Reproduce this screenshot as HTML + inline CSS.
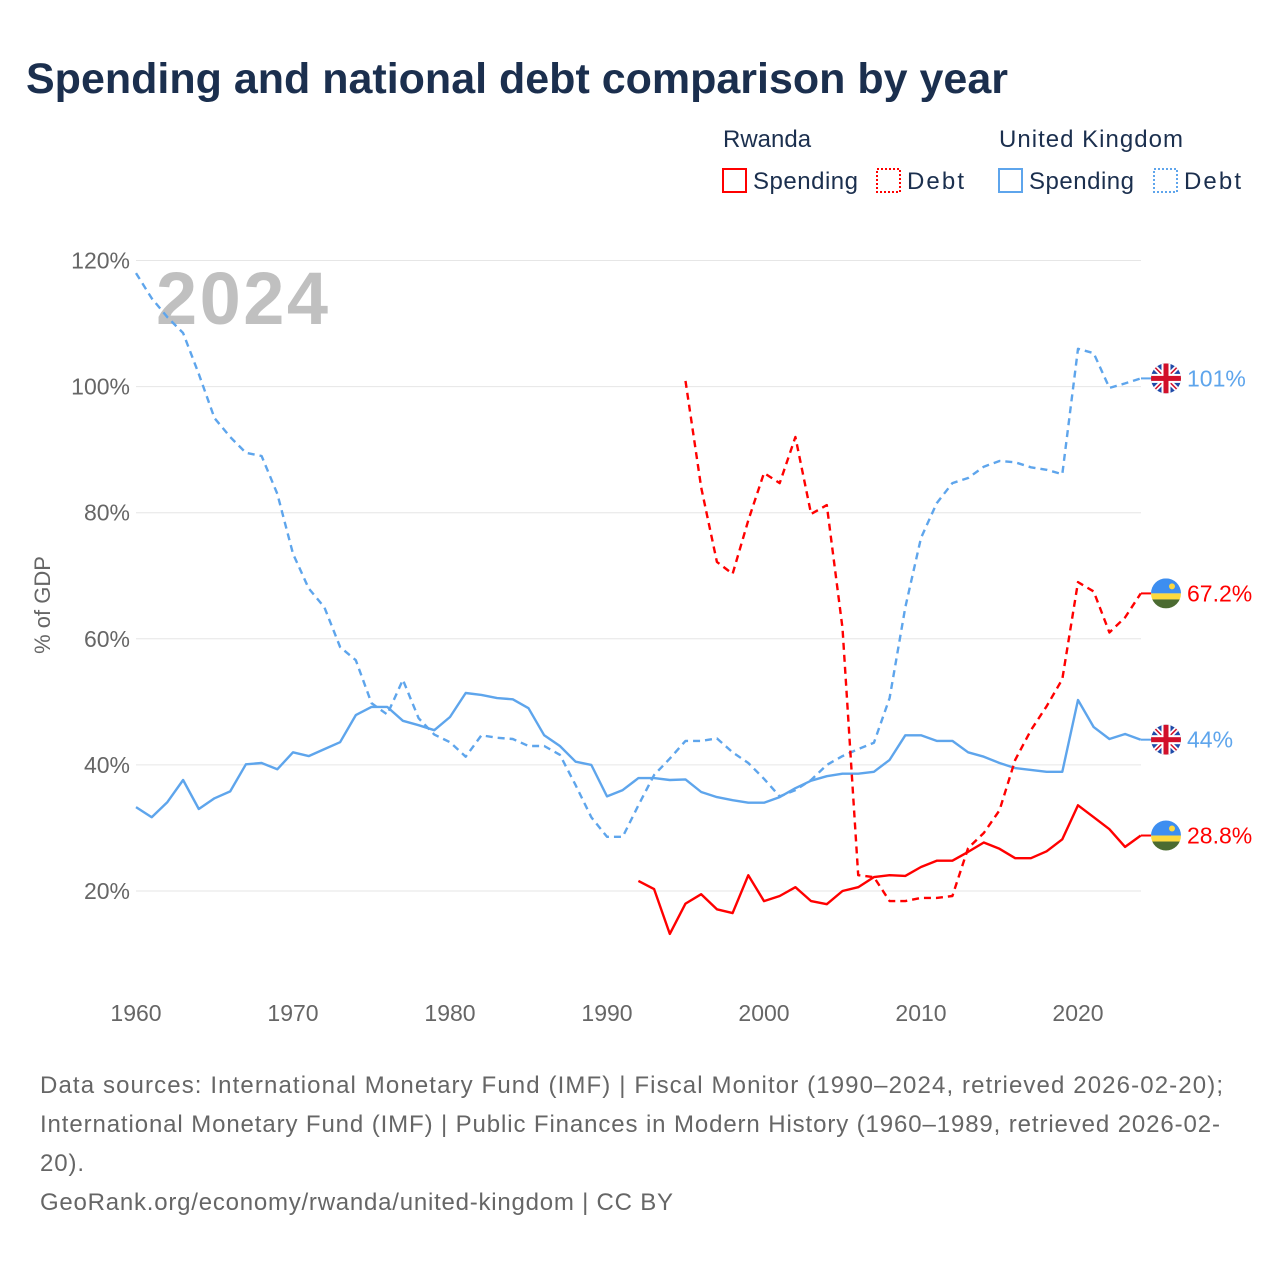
<!DOCTYPE html>
<html><head><meta charset="utf-8"><style>
body{margin:0;background:#fff;width:1280px;height:1280px;overflow:hidden;font-family:"Liberation Sans",sans-serif}
svg{position:absolute;left:0;top:0}
</style></head><body>
<svg width="1280" height="1280" id="chart">
<text x="26" y="93" font-size="43" font-weight="bold" fill="#1b2f4e">Spending and national debt comparison by year</text>
<g font-size="24" fill="#1b2f4e">
<text x="723" y="147">Rwanda</text>
<text x="999" y="147" textLength="184">United Kingdom</text>
<g><rect x="723" y="169" width="23" height="23" fill="none" stroke="#ff0000" stroke-width="2"/><text x="753" y="189" textLength="105">Spending</text></g>
<g><rect x="877" y="169" width="23" height="23" fill="none" stroke="#ff0000" stroke-width="2" stroke-dasharray="2,2"/><text x="907" y="189" textLength="57">Debt</text></g>
<g><rect x="999" y="169" width="23" height="23" fill="none" stroke="#5ea5ec" stroke-width="2"/><text x="1029" y="189" textLength="105">Spending</text></g>
<g><rect x="1154" y="169" width="23" height="23" fill="none" stroke="#5ea5ec" stroke-width="2" stroke-dasharray="2,2"/><text x="1184" y="189" textLength="57">Debt</text></g>
</g>
<text x="156" y="324" font-size="74" font-weight="bold" fill="#c0c0c0" textLength="172">2024</text>
<text transform="translate(50,605) rotate(-90)" text-anchor="middle" font-size="22" fill="#666">% of GDP</text>
<g id="grid"></g><g id="series"></g><g id="ends"></g>
<g font-size="24" fill="#666">
<text x="40" y="1093" textLength="1183">Data sources: International Monetary Fund (IMF) | Fiscal Monitor (1990–2024, retrieved 2026-02-20);</text>
<text x="40" y="1132" textLength="1180">International Monetary Fund (IMF) | Public Finances in Modern History (1960–1989, retrieved 2026-02-</text>
<text x="40" y="1171" textLength="44">20).</text>
<text x="40" y="1210" textLength="633">GeoRank.org/economy/rwanda/united-kingdom | CC BY</text>
</g>
</svg>
<script>
const yTicks=[20,40,60,80,100,120];
const xTicks=[1960,1970,1980,1990,2000,2010,2020];
const ukDebtStart=1960;
const ukDebt=[118,114,111,108.5,102,95,92,89.5,89,83,73.5,68,65,58.7,56.6,49.8,48,53.5,47.4,44.8,43.6,41.3,44.7,44.3,44.1,43,43,41.6,36.8,31.7,28.6,28.6,33.6,38.4,41,43.8,43.8,44.2,42,40.3,37.8,35,36,37.6,40,41.4,42.5,43.5,50.6,65,76,81.5,84.7,85.5,87.3,88.2,88,87.2,86.8,86.1,106,105.3,99.8,100.5,101.3];
const ukSpendStart=1960;
const ukSpend=[33.3,31.7,34.1,37.6,33,34.7,35.8,40.1,40.3,39.3,42,41.4,42.5,43.6,47.9,49.2,49.2,47,46.3,45.5,47.6,51.4,51.1,50.6,50.4,49,44.7,43,40.5,40,35,36,37.9,37.9,37.6,37.7,35.7,34.9,34.4,34,34,34.9,36.3,37.5,38.2,38.6,38.6,38.9,40.8,44.7,44.7,43.8,43.8,42,41.3,40.3,39.5,39.2,38.9,38.9,50.3,46,44.1,44.9,44];
const rwSpendStart=1992;
const rwSpend=[21.6,20.3,13.2,18,19.5,17.1,16.5,22.5,18.4,19.2,20.6,18.4,17.9,20,20.6,22.2,22.5,22.4,23.8,24.8,24.8,26.2,27.7,26.7,25.2,25.2,26.3,28.2,33.6,31.7,29.8,27,28.8];
const rwDebtStart=1995;
const rwDebt=[100.9,84,72.2,70.3,78.8,86.3,84.7,92,79.8,81.2,61.7,22.5,22.2,18.4,18.4,18.9,18.9,19.2,26.8,29.2,32.8,40.8,45.5,49.3,53.6,69,67.5,61,63.4,67.2];
const endLabels=["101%","67.2%","44%","28.8%"];

const X=y=>136+(y-1960)*(1078-136)/60;
const Y=v=>891-(v-20)*6.305;
const NS="http://www.w3.org/2000/svg";
function mk(t,a,p){const e=document.createElementNS(NS,t);for(const k in a)e.setAttribute(k,a[k]);p.appendChild(e);return e;}
const grid=document.getElementById('grid');
yTicks.forEach(v=>{
 const l=mk('line',{x1:136,x2:1141,y1:Y(v),y2:Y(v),stroke:'#e6e6e6','stroke-width':1},grid);
 
 
 const t=mk('text',{x:130,y:Y(v)+8,'text-anchor':'end','font-size':23,fill:'#666'},grid);
 t.textContent=v+'%';
 
 
});
xTicks.forEach(yr=>{
 const t=mk('text',{x:X(yr),y:1021,'text-anchor':'middle','font-size':23,fill:'#666'},grid);
 t.textContent=yr;
 
 
});
const ser=document.getElementById('series');
function line(arr,start,color,dash,name){
 const d=arr.map((v,i)=>(i?'L':'M')+X(start+i).toFixed(1)+','+Y(v).toFixed(1)).join('');
 const p=mk('path',{d:d,fill:'none',stroke:color,'stroke-width':2.4,'stroke-linejoin':'round'},ser);
 if(dash)p.setAttribute('stroke-dasharray','7,5');
 
 
}
line(ukDebt,ukDebtStart,'#5ea5ec',true,'uk-debt-line');
line(ukSpend,ukSpendStart,'#5ea5ec',false,'uk-spending-line');
line(rwDebt,rwDebtStart,'#ff0000',true,'rwanda-debt-line');
line(rwSpend,rwSpendStart,'#ff0000',false,'rwanda-spending-line');
const ends=document.getElementById('ends');
const endVals=[ukDebt[ukDebt.length-1],rwDebt[rwDebt.length-1],ukSpend[ukSpend.length-1],rwSpend[rwSpend.length-1]];
const endCols=['#5ea5ec','#ff0000','#5ea5ec','#ff0000'];
const endFlag=['uk','rw','uk','rw'];
endVals.forEach((v,i)=>{
 const cy=Y(v),cx=1166;
 const g=mk('g',{},ends);
 
 
 mk('line',{x1:1141,x2:1151,y1:cy,y2:cy,stroke:endCols[i],'stroke-width':2},g);
 const clip=mk('clipPath',{id:'c'+i},g);
 mk('circle',{cx:cx,cy:cy,r:15},clip);
 const f=mk('g',{'clip-path':'url(#c'+i+')'},g);
 if(endFlag[i]=='uk'){
  mk('rect',{x:cx-15,y:cy-15,width:30,height:30,fill:'#1f4aa8'},f);
  mk('path',{d:`M${cx-15},${cy-15}L${cx+15},${cy+15}M${cx+15},${cy-15}L${cx-15},${cy+15}`,stroke:'#fff','stroke-width':5},f);
  mk('path',{d:`M${cx-15},${cy-15}L${cx+15},${cy+15}M${cx+15},${cy-15}L${cx-15},${cy+15}`,stroke:'#d2102a','stroke-width':1.5},f);
  mk('rect',{x:cx-15,y:cy-4.5,width:30,height:9,fill:'#fff'},f);
  mk('rect',{x:cx-4.5,y:cy-15,width:9,height:30,fill:'#fff'},f);
  mk('rect',{x:cx-15,y:cy-2.5,width:30,height:5,fill:'#d2102a'},f);
  mk('rect',{x:cx-2.5,y:cy-15,width:5,height:30,fill:'#d2102a'},f);
 }else{
  mk('rect',{x:cx-15,y:cy-15,width:30,height:15,fill:'#3d8ef0'},f);
  mk('rect',{x:cx-15,y:cy,width:30,height:6,fill:'#fcd93f'},f);
  mk('rect',{x:cx-15,y:cy+6,width:30,height:9,fill:'#4b6b31'},f);
  mk('circle',{cx:cx+6,cy:cy-7,r:3,fill:'#fcd93f'},f);
 }
 const t=mk('text',{x:1187,y:cy+8,'font-size':23,fill:endCols[i]},g);
 t.textContent=endLabels[i];
});
</script>
</body></html>
